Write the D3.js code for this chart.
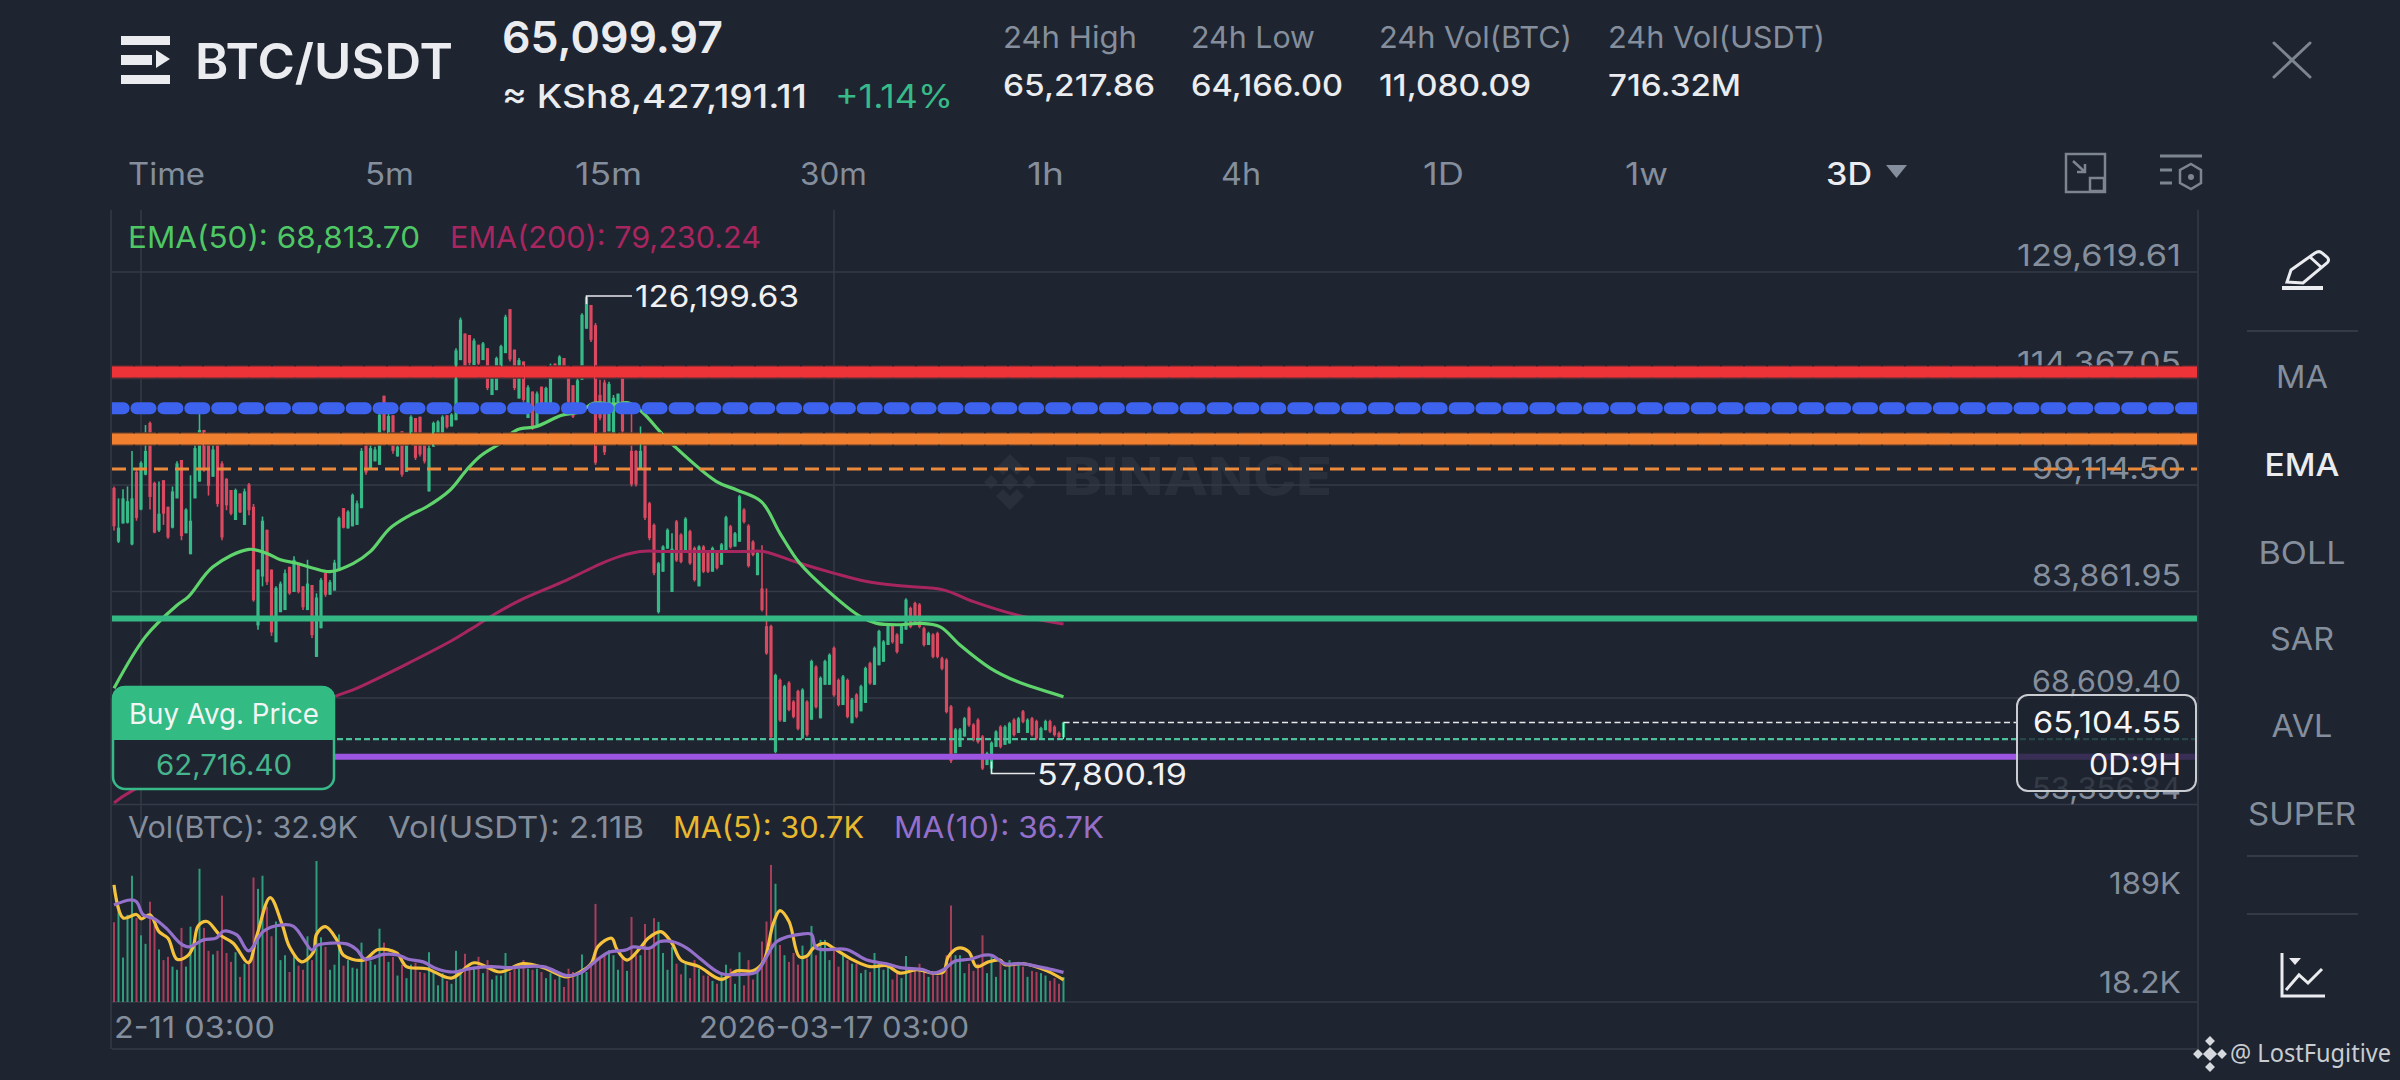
<!DOCTYPE html>
<html>
<head>
<meta charset="utf-8">
<title>BTC/USDT</title>
<script src="https://cdn.jsdelivr.net/npm/d3@7"></script>
<style>
  html, body { margin: 0; padding: 0; background: #1e2430; }
  svg { display: block; }
  text { font-family: "Inter", "Noto Sans", sans-serif; }
</style>
</head>
<body>
<svg id="chart" width="2400" height="1080"></svg>
<script>
// prices in thousands of USDT, one entry per 3D candle
const candleOpen = [
  98.7,91.0,93.6,93.7,90.6,101.0,95.6,100.6,108.0,99.4,
  92.6,99.8,96.0,93.0,97.2,102.7,92.2,89.2,97.2,99.6,
  107.0,106.5,100.3,104.8,102.2,100.0,98.4,94.1,97.9,93.4,
  99.2,96.0,79.0,86.0,92.7,87.0,76.6,80.9,81.2,87.4,
  83.8,87.9,84.6,81.2,84.8,74.5,78.6,86.5,83.4,84.0,
  86.9,95.8,92.9,93.2,93.4,95.8,104.8,101.5,102.5,102.0,
  111.9,106.5,109.1,103.2,106.8,101.0,106.0,108.7,108.9,104.8,
  98.2,104.6,106.5,106.5,109.1,107.5,108.4,117.0,120.8,120.6,
  116.3,119.2,117.0,118.7,112.0,112.7,116.1,118.0,124.3,118.5,
  111.5,116.8,108.7,112.5,107.5,113.2,110.6,110.8,116.5,116.1,
  117.3,114.6,113.4,109.4,114.2,121.5,124.9,122.0,112.0,113.8,
  106.8,106.5,111.0,114.5,109.4,104.0,104.0,101.5,105.0,96.5,
  93.4,80.9,86.7,90.0,83.8,93.9,92.0,89.8,92.5,90.1,
  84.6,90.3,89.4,86.7,89.4,87.7,89.8,93.2,90.3,91.0,
  95.6,93.3,91.0,86.2,84.3,78.9,78.9,60.9,71.2,65.2,
  70.8,68.1,69.6,62.8,68.1,65.5,73.1,65.7,70.5,70.5,
  75.8,71.2,67.6,71.2,65.0,69.1,66.7,67.9,73.6,70.5,
  73.3,73.8,76.2,78.9,77.7,76.4,78.4,81.5,82.2,82.0,
  78.6,76.2,77.7,77.9,74.3,74.1,67.4,60.7,61.6,63.1,
  67.2,64.8,65.5,63.1,59.0,58.5,61.6,64.5,61.9,62.1,
  65.5,63.6,66.7,63.6,65.7,65.3,62.6,64.0,65.3,64.5,
  63.6,63.0
];
const candleHigh = [
  98.9,97.2,98.5,98.9,104.0,101.3,102.5,107.7,108.2,99.6,
  99.6,99.8,96.0,98.9,102.5,102.7,95.8,100.5,104.8,109.4,
  107.0,106.5,104.8,104.8,102.5,100.1,98.4,98.6,97.9,98.6,
  99.4,96.4,87.0,94.6,92.7,87.0,84.6,85.3,87.0,87.4,
  88.9,87.9,84.6,88.4,84.8,83.6,85.8,86.5,85.5,88.4,
  94.6,95.8,95.5,97.9,96.9,104.4,104.8,104.8,104.6,109.6,
  111.9,109.4,109.1,104.8,106.8,105.1,109.1,108.7,108.9,104.8,
  104.8,108.2,108.4,109.1,109.1,109.4,118.7,123.1,120.8,120.6,
  120.1,119.2,119.6,118.7,114.6,117.5,119.2,123.5,124.3,118.5,
  117.3,116.8,113.4,112.5,112.5,113.2,113.2,116.5,116.5,117.7,
  117.3,114.6,113.4,114.4,123.7,126.2,124.9,122.3,114.2,114.2,
  113.9,112.0,112.2,114.5,111.0,109.4,104.1,107.5,105.1,96.7,
  93.6,88.1,90.5,92.9,92.2,94.1,92.2,94.5,92.7,90.3,
  90.5,90.5,89.6,90.3,89.6,90.8,94.7,93.4,92.4,97.7,
  95.8,93.5,91.2,89.6,90.5,84.3,79.1,72.1,71.4,70.5,
  71.0,68.3,69.8,70.0,68.3,74.1,73.3,71.7,74.1,75.0,
  76.0,71.4,71.9,71.4,68.6,69.3,70.5,73.1,73.8,76.0,
  78.4,76.9,79.1,79.1,77.9,79.1,82.9,81.7,82.4,82.2,
  78.8,78.1,77.9,78.1,74.5,74.3,67.6,64.3,64.3,65.9,
  67.4,65.0,65.7,63.3,60.9,62.4,64.0,64.7,64.7,65.2,
  65.7,65.9,66.9,65.7,65.9,65.5,64.5,65.5,65.5,64.7,
  63.8,65.2
];
const candleLow = [
  92.6,90.8,93.6,93.6,90.5,94.0,95.5,100.5,95.6,92.2,
  92.4,93.4,91.4,92.9,97.2,91.2,92.2,89.2,97.2,99.6,
  101.0,97.6,100.3,96.0,91.2,95.5,94.8,94.1,95.1,93.4,
  94.8,82.4,78.4,84.6,84.8,77.5,76.6,80.9,81.2,83.4,
  83.8,83.6,81.2,81.2,77.2,74.5,78.6,83.1,83.4,84.0,
  86.9,92.9,92.9,93.2,93.4,95.8,100.6,101.5,102.5,102.0,
  106.8,106.5,103.6,103.2,100.3,101.0,106.0,102.7,103.2,102.2,
  98.2,104.6,106.5,106.5,107.2,107.5,108.4,117.0,114.6,116.3,
  116.3,116.3,117.0,112.7,112.0,112.7,116.1,118.0,116.8,112.7,
  111.5,111.0,108.7,107.0,107.5,110.3,110.3,110.8,114.4,116.1,
  114.6,110.8,108.7,109.4,114.2,121.5,119.6,102.0,108.4,103.4,
  106.8,106.5,110.8,106.5,109.4,98.9,98.9,101.5,94.1,91.2,
  86.2,80.7,86.7,90.0,83.8,88.1,87.9,89.8,87.7,85.3,
  84.6,86.5,86.5,86.7,87.0,87.7,89.8,90.0,90.3,91.0,
  93.6,87.3,88.9,86.2,81.0,74.8,62.6,60.7,65.2,65.2,
  66.7,65.7,64.0,62.8,63.1,65.5,67.1,65.7,70.5,70.5,
  68.8,67.4,67.6,65.7,65.0,65.7,66.7,67.9,70.5,70.5,
  73.3,73.8,76.2,76.4,75.0,76.4,78.4,78.6,79.3,78.6,
  76.0,76.2,74.3,74.3,72.6,66.4,59.3,60.7,61.6,63.1,
  64.5,62.4,62.1,58.3,59.0,57.8,61.6,61.4,61.9,62.1,
  63.1,63.6,65.0,63.6,63.1,62.6,62.6,64.0,63.6,63.1,
  62.8,62.9
];
const candleClose = [
  93.2,93.0,97.2,96.8,97.2,94.4,102.3,104.0,97.4,92.3,
  95.0,95.0,91.6,98.2,102.2,91.8,95.6,94.0,104.4,107.0,
  101.2,99.0,104.2,96.4,91.6,96.2,95.0,98.4,95.2,98.2,
  95.5,82.6,87.0,94.0,85.2,78.0,84.4,85.0,86.5,83.6,
  88.4,83.8,81.6,85.0,77.6,83.0,85.5,83.4,85.2,88.0,
  94.4,93.0,95.3,97.7,96.5,104.0,100.9,104.4,104.2,109.2,
  107.0,109.0,104.0,104.6,100.6,104.8,108.9,103.0,103.5,102.5,
  104.4,108.0,108.2,108.9,107.4,109.2,118.4,122.8,115.0,116.6,
  119.8,116.5,119.4,113.0,114.4,117.3,119.0,123.2,117.1,113.0,
  117.0,111.3,113.1,107.3,112.2,110.6,113.0,116.2,114.6,117.5,
  114.8,111.0,108.9,114.1,123.5,126.0,119.9,102.3,108.7,103.8,
  113.6,111.6,112.2,106.8,110.7,99.2,99.2,104.0,94.4,91.5,
  86.5,87.9,90.3,92.7,90.0,88.3,88.1,94.3,87.9,85.5,
  90.3,86.7,86.7,90.1,87.2,90.6,94.5,90.2,92.2,97.5,
  93.8,87.5,89.1,89.4,81.2,75.0,63.0,71.9,65.4,70.3,
  66.9,65.9,64.2,69.8,63.3,73.9,67.3,71.5,73.9,74.8,
  69.0,67.6,71.7,65.9,68.4,65.9,70.3,72.9,70.7,75.8,
  78.2,76.7,78.9,76.6,75.2,78.9,82.7,78.8,79.5,78.8,
  76.2,77.9,74.5,74.5,72.8,66.6,59.6,64.1,64.1,65.7,
  64.7,62.6,62.3,58.5,60.7,62.2,63.8,61.6,64.5,65.0,
  63.3,65.7,65.2,65.5,63.3,62.8,64.3,65.3,63.8,63.3,
  63.0,65.1
];
// volume in thousands of BTC
const volume = [
  120,173,52,143,360,133,88,72,195,112,
  63,49,53,42,39,105,42,108,76,425,
  105,61,56,61,225,58,47,59,33,45,
  49,345,264,360,173,86,122,49,55,37,
  55,43,39,86,49,510,84,67,39,44,
  90,43,49,41,40,74,50,48,44,103,
  74,47,53,34,44,32,44,46,37,36,
  59,37,27,36,30,28,61,40,57,39,
  42,53,36,49,31,34,34,58,37,40,
  40,49,40,39,40,37,32,36,31,34,
  26,40,37,36,56,37,45,185,53,55,
  62,55,39,53,38,136,55,55,115,62,
  132,121,58,39,67,45,35,45,32,49,
  40,34,34,30,28,36,44,40,28,59,
  27,49,31,38,76,122,465,298,70,55,
  47,58,44,69,51,110,55,79,79,49,
  61,42,55,49,45,45,36,39,37,58,
  45,39,42,31,36,32,54,36,40,45,
  37,33,37,34,36,55,178,55,55,36,
  45,38,45,88,36,53,33,49,39,49,
  44,47,42,33,38,37,36,34,30,32,
  28,32.9
];

// indicator lines: candle index + value
const ema50Index = [0,7,14,16.5,22,30,34,37,40.6,44.3,48,53.2,57,61.3,65.8,69.5,74.7,78.4,81.3,85.8,89.5,93.9,99.5,103.6,106.5,111.3,114.3,117.3,121.7,124.3,133.9,138.4,143.9,148,152.4,158.4,165.8,169.5,174.7,179.1,183.6,188,194.7,200.6,211];
const ema50Value = [70.0,77.4,81.9,83.1,87.4,89.9,89.3,88.4,87.9,87.2,86.7,87.9,89.6,92.9,94.8,96.0,98.4,101.3,103.2,105.1,107.0,107.5,109.1,109.6,110.8,110.7,110.9,109.6,106.5,104.8,99.6,98.4,96.7,92.2,87.9,84.1,80.3,79.3,79.1,79.3,78.8,76.2,72.9,71.0,68.8];
const ema200Index = [0,3.7,49,53.9,74.7,79.1,84.3,90.2,100.6,108,112.4,116.9,122.8,140.6,144.3,152.4,159.9,167.3,176.1,184.3,191,200.6,211];
const ema200Value = [53.6,55.2,68.8,70.0,76.7,78.4,80.5,82.6,85.5,87.8,88.9,89.6,89.6,89.6,89.6,87.9,86.5,85.3,84.6,84.1,82.4,80.5,79.2];
const ma5Index = [0,2,5,6.1,8,10,12,14,16.3,17.6,18.7,20.7,23.5,26.5,29.9,31.7,34.7,37.3,39,41.7,44.3,45,47,49.5,51,55.4,58.7,62.8,65,69.5,75,80,85.8,90.8,95.4,100.6,103.6,106,107.6,110.6,111.7,114,116.9,118.7,121.5,124,126,130,135,138.4,142,144.3,146.5,148,150,152.3,154,155.4,158,159.9,164.3,168,171.7,174.7,178.4,182,184.3,185.4,187.6,189.9,191.7,194.3,196.9,198,202,207.3,211];
const ma5Value = [290,133,144,130,143,96,82,50,54,67,110,122,89,73,46,86,215,116,67,47,59,90,108,79,55,49,63,58,42,40,32,46,37,45,41,33,37,45,68,82,64,49,65,82,96,73,49,42,31,38,38,47,116,158,122,53,54,65,73,65,49,42,43,36,39,36,37,53,65,60,42,47,49,44,45,38,30.7];
const ma10Index = [0,3.6,5,6.5,9,11.7,14.7,16.5,19.9,22.8,24.3,27.3,29.9,33.2,36.9,39.9,44,45,51.7,53.9,55.8,59.9,63.2,65.4,68.7,71.7,75.4,79.1,83.6,88,95.4,100.6,103.6,107.3,110,113.6,115.4,119,121.3,124,127.3,130.2,134.7,139.9,142.8,145,147.3,153.2,155,156.1,162.8,167.3,171.7,174.7,179.9,182,184.3,186.9,190.2,193.2,195,198,201.7,206.5,211];
const ma10Value = [180,203,195,143,130,103,73,67,79,83,97,89,61,97,112,109,62,69,72,63,50,56,55,50,47,40,37,40,42,41,42,34,36,49,59,62,67,65,76,76,65,51,36,35,37,53,76,91,90,65,63,49,45,41,39,36,39,48,50,55,55,45,45,41,36.7];

// levels drawn across the whole chart, in thousands of USDT
const levelRed = 115.3, levelBlue = 110.1, levelOrange = 105.7, levelOrangeDash = 101.4, levelGreen = 80.0, levelPurple = 60.2;
const buyAvgPrice = 62.7164, lastPrice = 65.10455, highPrice = 126.19963, lowPrice = 57.80019;
const highIndex = 105, lowIndex = 195;

const priceTicks = [129.61961, 114.36705, 99.1145, 83.86195, 68.6094, 53.35684];
const priceTickLabels = ["129,619.61", "114,367.05", "99,114.50", "83,861.95", "68,609.40", "53,356.84"];
const volumeTicks = [189, 18.2];
const volumeTickLabels = ["189K", "18.2K"];
const dateTickIndex = [6, 160];
const tabs = ["Time", "5m", "15m", "30m", "1h", "4h", "1D", "1w"];
const tabX = [128, 365, 575, 800, 1027, 1221, 1423, 1625];
const tabWidth = [77, 49, 67, 67, 37, 40, 41, 43];
const sideMenu = ["MA", "EMA", "BOLL", "SAR", "AVL", "SUPER"];
const sideMenuY = [388, 476, 564, 650, 737, 825];
const sideMenuWidth = [52, 75, 87, 64, 61, 108];

const BG = "#1e2430", GRID = "#343b47", AXIS = "#848e9c", GREEN = "#37ba88", RED = "#d9495f";
const svg = d3.select("#chart");

const x = d3.scaleLinear().domain([0, 211]).range([114, 1063.5]);
const y = d3.scaleLinear().domain([53.35684, 129.61961]).range([804.5, 272]);
const yVol = d3.scaleLog().domain([18.2, 189]).range([1002, 903]);
const plotLeft = 112, plotRight = 2197;

// w stretches the text to the width it has in the screenshot
function txt(g, px, py, s, size, fill, anchor, weight, w) {
  const t = g.append("text").attr("x", px).attr("y", py).text(s)
    .attr("font-size", size).attr("fill", fill)
    .attr("text-anchor", anchor || "start").attr("font-weight", weight || 400);
  if (w) t.attr("textLength", w).attr("lengthAdjust", "spacingAndGlyphs");
  return t;
}

svg.append("rect").attr("width", 2400).attr("height", 1080).attr("fill", BG);
svg.append("defs").append("clipPath").attr("id", "plotClip").append("rect")
  .attr("x", plotLeft).attr("y", 200).attr("width", plotRight - plotLeft).attr("height", 860);

// watermark
const wm = svg.append("g").attr("fill", "#29303b");
wm.append("path").attr("d", "M1010 454L1024 468L1017 475L1010 468L1003 475L996 468Z M1010 510L996 496L1003 489L1010 496L1017 489L1024 496Z");
[[1010, 482, 6], [991, 482, 5], [1029, 482, 5]].forEach(d => {
  wm.append("rect").attr("x", d[0] - d[2]).attr("y", d[1] - d[2]).attr("width", d[2] * 2).attr("height", d[2] * 2)
    .attr("transform", `rotate(45 ${d[0]} ${d[1]})`);
});
txt(wm, 1063, 495, "BINANCE", 52, "#29303b", "start", 800, 269);

// grid and frame
const grid = svg.append("g").attr("stroke", GRID).attr("stroke-width", 1.5);
grid.selectAll("line.h").data(priceTicks).join("line").attr("class", "h")
  .attr("x1", plotLeft).attr("x2", plotRight).attr("y1", d => y(d)).attr("y2", d => y(d));
grid.selectAll("line.v").data(dateTickIndex).join("line").attr("class", "v")
  .attr("x1", d => x(d)).attr("x2", d => x(d)).attr("y1", 210).attr("y2", yVol(18.2));
[[plotLeft - 1, 210, plotLeft - 1, 1049], [plotRight + 1, 210, plotRight + 1, 1049],
 [plotLeft, yVol(18.2), plotRight, yVol(18.2)], [plotLeft, 1049, plotRight, 1049]].forEach(d => {
  grid.append("line").attr("x1", d[0]).attr("y1", d[1]).attr("x2", d[2]).attr("y2", d[3]);
});

// axis labels sit under the level lines
const axisG = svg.append("g");
priceTicks.forEach((t, i) => txt(axisG, 2181, y(t) - 6, priceTickLabels[i], 30, AXIS, "end", 400, i < 2 ? 164 : 149));
volumeTicks.forEach((t, i) => txt(axisG, 2181, yVol(t) - 9, volumeTickLabels[i], 30, AXIS, "end", 400, i === 0 ? 72 : 82));

// candles
const isUp = i => candleClose[i] >= candleOpen[i];
const idx = d3.range(candleOpen.length);
const candles = svg.append("g");
candles.selectAll("line").data(idx).join("line")
  .attr("x1", i => x(i)).attr("x2", i => x(i))
  .attr("y1", i => y(candleHigh[i])).attr("y2", i => y(candleLow[i]))
  .attr("stroke", i => isUp(i) ? GREEN : RED).attr("stroke-width", 1.6);
candles.selectAll("rect").data(idx).join("rect")
  .attr("x", i => x(i) - 1.6).attr("width", 3.2)
  .attr("y", i => y(Math.max(candleOpen[i], candleClose[i])))
  .attr("height", i => Math.max(1, Math.abs(y(candleOpen[i]) - y(candleClose[i]))))
  .attr("fill", i => isUp(i) ? GREEN : RED);

// EMA lines
function drawLine(scaleY, xs, ys, color, width) {
  const line = d3.line().x(i => x(xs[i])).y(i => scaleY(ys[i])).curve(d3.curveCatmullRom);
  svg.append("path").attr("d", line(d3.range(xs.length))).attr("fill", "none")
    .attr("stroke", color).attr("stroke-width", width).attr("stroke-linejoin", "round");
}
drawLine(y, ema200Index, ema200Value, "#a8265f", 3);
drawLine(y, ema50Index, ema50Value, "#5fd46c", 3.2);

// volume bars
svg.append("g").selectAll("rect").data(idx).join("rect")
  .attr("x", i => x(i) - 1).attr("width", 2)
  .attr("y", i => yVol(volume[i]))
  .attr("height", i => yVol(18.2) - yVol(volume[i]))
  .attr("fill", i => isUp(i) ? "#2f9c7b" : "#a83f5a");
drawLine(yVol, ma5Index, ma5Value, "#f4c23c", 3.2);
drawLine(yVol, ma10Index, ma10Value, "#9470cb", 3.2);

// horizontal levels, the thick ones have a dark dashed edge in the screenshot
function level(v, color, width, dash, cap, offset, edge) {
  if (edge) {
    svg.append("line").attr("x1", plotLeft).attr("x2", plotRight)
      .attr("y1", y(v)).attr("y2", y(v)).attr("stroke", edge).attr("stroke-width", width + 2.5)
      .attr("stroke-dasharray", "21 2").attr("clip-path", "url(#plotClip)");
  }
  const l = svg.append("line").attr("x1", plotLeft).attr("x2", plotRight)
    .attr("y1", y(v)).attr("y2", y(v)).attr("stroke", color).attr("stroke-width", width)
    .attr("clip-path", "url(#plotClip)");
  if (dash) l.attr("stroke-dasharray", dash);
  if (cap) l.attr("stroke-linecap", cap);
  if (offset) l.attr("stroke-dashoffset", offset);
  return l;
}
level(levelRed, "#ee3338", 11, null, null, null, "#5a2a30");
level(levelBlue, "#3d63ee", 12, "14 12.9", "round", 2.4);
level(levelOrange, "#f08030", 11, null, null, null, "#5e3a28");
level(levelOrangeDash, "#ec8a3c", 3, "14 7");
level(levelGreen, "#34b884", 6);
level(levelPurple, "#9b55e0", 6);
level(buyAvgPrice, "#4cc29a", 2.4, "6 3");
svg.append("line").attr("x1", x(211)).attr("x2", 2017).attr("y1", y(lastPrice)).attr("y2", y(lastPrice))
  .attr("stroke", "#e6e8ea").attr("stroke-width", 1.5).attr("stroke-dasharray", "6 3.5");
svg.append("line").attr("x1", x(211)).attr("x2", x(211)).attr("y1", y(lastPrice)).attr("y2", y(buyAvgPrice))
  .attr("stroke", "#c9ccd0").attr("stroke-width", 1);

// high / low markers
const marks = svg.append("g").attr("fill", "none").attr("stroke", "#e6e8ea").attr("stroke-width", 1.5);
marks.append("path").attr("d", `M${x(highIndex)} ${y(highPrice) + 8}V${y(highPrice)}H632`);
marks.append("path").attr("d", `M${x(lowIndex)} ${y(lowPrice) - 12}V${y(lowPrice)}H1035`);
txt(svg, 635, y(highPrice) + 11, "126,199.63", 30, "#f0f1f3", "start", 400, 164);
txt(svg, 1037, y(lowPrice) + 12, "57,800.19", 30, "#f0f1f3", "start", 400, 150);

// buy average label
svg.append("rect").attr("x", 113).attr("y", 687).attr("width", 221).attr("height", 102).attr("rx", 12)
  .attr("fill", BG).attr("stroke", "#37ba88").attr("stroke-width", 2.5);
svg.append("path").attr("d", "M112 740V698a12 12 0 0 1 12-12H323a12 12 0 0 1 12 12V740Z").attr("fill", "#33bb84");
txt(svg, 224, 724, "Buy Avg. Price", 28, "#f2f5f4", "middle", 400, 190);
txt(svg, 224, 775, "62,716.40", 28, "#46b48c", "middle", 400, 136);

// current price box
svg.append("rect").attr("x", 2017).attr("y", 695).attr("width", 179).attr("height", 96).attr("rx", 11)
  .attr("fill", BG).attr("fill-opacity", 0.78).attr("stroke", "#c9ccd0").attr("stroke-width", 2);
txt(svg, 2181, 733, "65,104.55", 30, "#f4f5f6", "end", 400, 148);
txt(svg, 2181, 775, "0D:9H", 30, "#f4f5f6", "end", 400, 92);

// legends
txt(svg, 128, 248, "EMA(50): 68,813.70", 30, "#4fc765", "start", 400, 292);
txt(svg, 450, 248, "EMA(200): 79,230.24", 30, "#a8265f", "start", 400, 311);
txt(svg, 128, 838, "Vol(BTC): 32.9K", 30, AXIS, "start", 400, 230);
txt(svg, 388, 838, "Vol(USDT): 2.11B", 30, AXIS, "start", 400, 256);
txt(svg, 673, 838, "MA(5): 30.7K", 30, "#e8b92f", "start", 400, 191);
txt(svg, 894, 838, "MA(10): 36.7K", 30, "#9470cb", "start", 400, 210);

// date labels
txt(svg, 114, 1038, "2-11 03:00", 30, AXIS, "start", 400, 161);
txt(svg, x(160), 1038, "2026-03-17 03:00", 30, AXIS, "middle", 400, 270);

// header
const head = svg.append("g");
const ic = head.append("g").attr("fill", "#eaecef");
ic.append("rect").attr("x", 121).attr("y", 36).attr("width", 49).attr("height", 9);
ic.append("rect").attr("x", 121).attr("y", 55).attr("width", 31).attr("height", 10);
ic.append("path").attr("d", "M156 50L170 59L156 68Z");
ic.append("rect").attr("x", 121).attr("y", 75).attr("width", 49).attr("height", 9);
txt(head, 195, 79, "BTC/USDT", 49, "#eaecef", "start", 600, 258);
txt(head, 502, 53, "65,099.97", 44, "#eaecef", "start", 600, 221);
txt(head, 502, 108, "≈ KSh8,427,191.11", 32, "#eaecef", "start", 500, 305);
txt(head, 835, 108, "+1.14%", 32, "#37ba88", "start", 400, 118);
[[1003, "24h High", "65,217.86", 134, 152], [1191, "24h Low", "64,166.00", 124, 152],
 [1379, "24h Vol(BTC)", "11,080.09", 193, 152], [1608, "24h Vol(USDT)", "716.32M", 217, 133]].forEach(d => {
  txt(head, d[0], 48, d[1], 30, AXIS, "start", 400, d[3]);
  txt(head, d[0], 96, d[2], 30, "#eaecef", "start", 500, d[4]);
});
tabs.forEach((t, i) => txt(head, tabX[i], 185, t, 31, AXIS, "start", 400, tabWidth[i]));
txt(head, 1826, 185, "3D", 31, "#eaecef", "start", 500, 46);
head.append("path").attr("d", "M1886 165H1907L1896.5 178Z").attr("fill", AXIS);

// toolbar icons
const tool = svg.append("g").attr("fill", "none").attr("stroke", "#7d8590").attr("stroke-width", 3);
tool.append("path").attr("d", "M2274 43L2310 77M2310 43L2274 77").attr("stroke-linecap", "round");
tool.append("path").attr("d", "M2088 154H2066V192H2105V154H2088M2072 160").attr("stroke-width", 2.5);
tool.append("rect").attr("x", 2090).attr("y", 178).attr("width", 14).attr("height", 13).attr("stroke-width", 2.5);
tool.append("path").attr("d", "M2073 161L2085 172M2085 164V172H2077").attr("stroke-width", 2.5);
tool.append("path").attr("d", "M2160 156H2202M2160 170H2172M2160 183H2172").attr("stroke-width", 3);
tool.append("path").attr("d", "M2191 164L2201 170V183L2191 189L2180 183V170Z").attr("stroke-width", 2.5);
tool.append("circle").attr("cx", 2191).attr("cy", 177).attr("r", 3).attr("fill", "#7d8590").attr("stroke", "none");

// side menu
const side = svg.append("g");
side.append("path").attr("d", "M2287 282L2291 270L2315 253C2318 251 2320 251 2322 253L2327 257C2329 259 2329 261 2327 263L2303 283Z M2310 257L2321 267")
  .attr("fill", "none").attr("stroke", "#eaecef").attr("stroke-width", 3);
side.append("line").attr("x1", 2282).attr("x2", 2323).attr("y1", 288).attr("y2", 288).attr("stroke", "#eaecef").attr("stroke-width", 4);
[331, 856, 914].forEach(v => side.append("line").attr("x1", 2247).attr("x2", 2358).attr("y1", v).attr("y2", v)
  .attr("stroke", GRID).attr("stroke-width", 2));
sideMenu.forEach((t, i) => txt(side, 2302, sideMenuY[i], t, 31, t === "EMA" ? "#eaecef" : AXIS, "middle", t === "EMA" ? 500 : 400, sideMenuWidth[i]));
side.append("path").attr("d", "M2282 953V996H2325M2286 990L2299 975L2308 983L2322 969")
  .attr("fill", "none").attr("stroke", "#eaecef").attr("stroke-width", 3);
side.append("path").attr("d", "M2289 958H2301L2295 965Z").attr("fill", "#eaecef");

// credit
const credit = svg.append("g").attr("fill", "#d5d8dc");
[[2210, 1054, 5], [2210, 1041, 3.5], [2210, 1067, 3.5], [2198, 1054, 3.5], [2222, 1054, 3.5]].forEach(d => {
  credit.append("rect").attr("x", d[0] - d[2]).attr("y", d[1] - d[2]).attr("width", d[2] * 2).attr("height", d[2] * 2)
    .attr("transform", `rotate(45 ${d[0]} ${d[1]})`);
});
txt(credit, 2230, 1062, "@ LostFugitive", 25, "#c9ccd1", "start", 400, 161).style("font-family", "'Noto Sans'");
</script>
</body>
</html>
